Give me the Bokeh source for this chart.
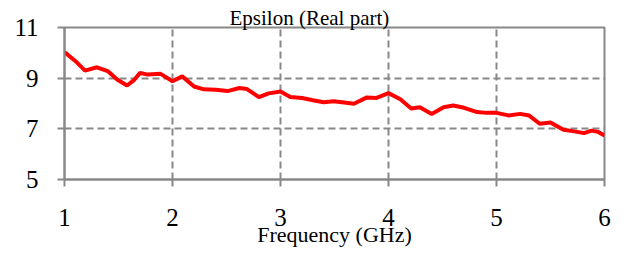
from bokeh.plotting import figure
from bokeh.models import Range1d, FixedTicker
from bokeh.embed import file_html
from bokeh.resources import INLINE

title_text = "Epsilon (Real part)"
x_label = "Frequency (GHz)"
x_ticks = [1, 2, 3, 4, 5, 6]
y_ticks = [5, 7, 9, 11]

freq = [1.00, 1.10, 1.19, 1.30, 1.40, 1.49, 1.58, 1.64, 1.70, 1.77, 1.89, 2.00,
        2.09, 2.20, 2.29, 2.40, 2.51, 2.62, 2.69, 2.80, 2.89, 3.00, 3.09, 3.20,
        3.30, 3.40, 3.49, 3.59, 3.68, 3.80, 3.89, 4.00, 4.11, 4.21, 4.29, 4.40,
        4.51, 4.60, 4.70, 4.82, 4.91, 5.00, 5.11, 5.22, 5.30, 5.40, 5.50, 5.62,
        5.72, 5.81, 5.88, 5.94, 6.00]
eps_real = [10.03, 9.68, 9.30, 9.43, 9.28, 8.94, 8.71, 8.91, 9.21, 9.14, 9.17, 8.88,
            9.07, 8.67, 8.56, 8.54, 8.49, 8.61, 8.57, 8.25, 8.40, 8.47, 8.26, 8.22,
            8.13, 8.05, 8.09, 8.04, 7.99, 8.24, 8.22, 8.41, 8.17, 7.80, 7.85, 7.59,
            7.85, 7.92, 7.83, 7.66, 7.63, 7.63, 7.53, 7.59, 7.53, 7.20, 7.25, 6.96,
            6.90, 6.83, 6.93, 6.88, 6.74]

FONT = "Liberation Serif"
GRAY = "#888888"

p = figure(width=617, height=249, output_backend="svg", toolbar_location=None,
           x_range=Range1d(1, 6), y_range=Range1d(5, 11),
           min_border_left=64, min_border_right=13, min_border_top=27,
           min_border_bottom=70)
p.background_fill_color = "white"
p.border_fill_color = "white"
p.outline_line_color = GRAY
p.outline_line_width = 2

p.title.text = title_text
p.title.align = "left"
p.title.text_font = FONT
p.title.text_font_size = "21px"
p.title.text_font_style = "normal"
p.title.text_color = "black"
p.title.standoff = -4
p.title.offset = 165

for ax, ticks in ((p.xaxis[0], x_ticks), (p.yaxis[0], y_ticks)):
    ax.ticker = FixedTicker(ticks=ticks)
    ax.axis_line_color = GRAY
    ax.axis_line_width = 2
    ax.major_tick_line_color = GRAY
    ax.major_tick_line_width = 2
    ax.major_tick_out = 7
    ax.major_tick_in = 0
    ax.minor_tick_line_color = None
    ax.major_label_text_font = FONT
    ax.major_label_text_font_size = "25px"
    ax.major_label_text_color = "black"
    ax.major_label_standoff = 19

p.xaxis[0].major_label_standoff = 22
p.xaxis[0].axis_label = x_label
p.xaxis[0].axis_label_text_font = FONT
p.xaxis[0].axis_label_text_font_size = "22px"
p.xaxis[0].axis_label_text_font_style = "normal"
p.xaxis[0].axis_label_text_color = "black"
p.xaxis[0].axis_label_standoff = -7

for g in (p.xgrid[0], p.ygrid[0]):
    g.grid_line_color = GRAY
    g.grid_line_width = 2
    g.grid_line_dash = "7 4"

p.line(freq, eps_real, line_color="#ff0000", line_width=4)

open("out.html", "w").write(file_html(p, INLINE))
